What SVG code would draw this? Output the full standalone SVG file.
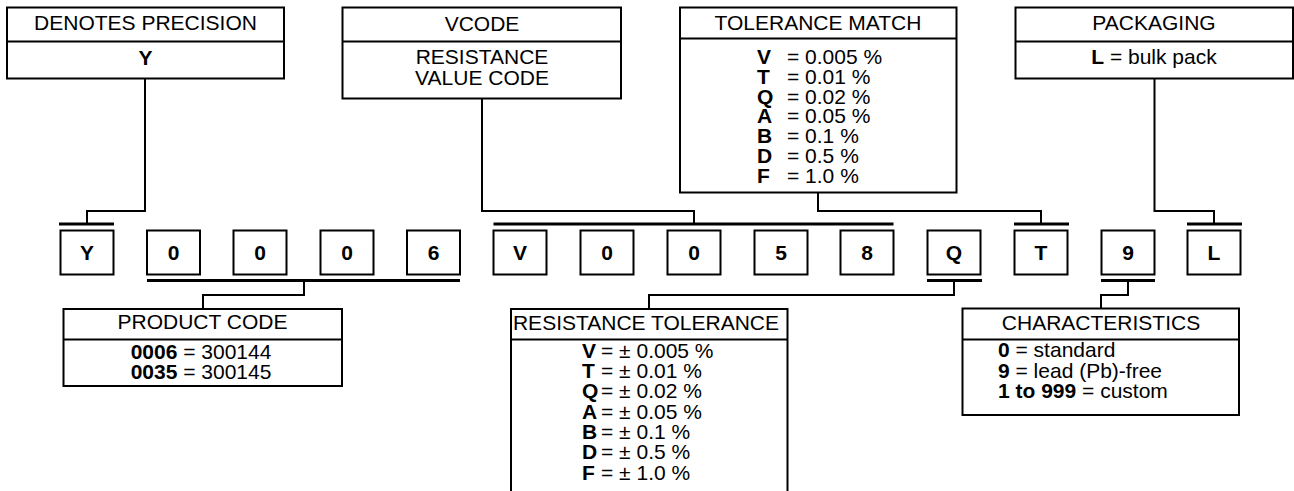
<svg xmlns="http://www.w3.org/2000/svg" width="1294" height="491" viewBox="0 0 1294 491">
<style>
.box{fill:#fff;stroke:#000;stroke-width:2}
.div{stroke:#000;stroke-width:2}
.t{font-family:"Liberation Sans",Arial,Helvetica,sans-serif;font-size:21px;fill:#000}
.c{text-anchor:middle}
.b{font-weight:bold}
.bar{stroke:#000;stroke-width:3;fill:none}
.ln{stroke:#000;stroke-width:2;fill:none}
</style>
<rect width="1294" height="491" fill="#fff"/>

<g id="denotes-precision">
<rect class="box" x="7" y="7.5" width="277" height="71"/>
<line class="div" x1="7" y1="41.5" x2="284" y2="41.5"/>
<text class="t c" x="145.5" y="30">DENOTES PRECISION</text>
<text class="t c b" x="145.5" y="65">Y</text>
</g>

<g id="vcode">
<rect class="box" x="342.5" y="7.5" width="278.5" height="91"/>
<line class="div" x1="342.5" y1="41.5" x2="621" y2="41.5"/>
<text class="t c" x="482" y="30.5">VCODE</text>
<text class="t c" x="482" y="64">RESISTANCE</text>
<text class="t c" x="482" y="85">VALUE CODE</text>
</g>

<g id="tolerance-match">
<rect class="box" x="680" y="7.5" width="276.5" height="185"/>
<line class="div" x1="680" y1="38.5" x2="956.5" y2="38.5"/>
<text class="t c" x="818" y="30">TOLERANCE MATCH</text>
<text class="t b" x="757" y="64">V</text><text class="t" x="787" y="64">= 0.005 %</text>
<text class="t b" x="757" y="83.8">T</text><text class="t" x="787" y="83.8">= 0.01 %</text>
<text class="t b" x="757" y="103.6">Q</text><text class="t" x="787" y="103.6">= 0.02 %</text>
<text class="t b" x="757" y="123.4">A</text><text class="t" x="787" y="123.4">= 0.05 %</text>
<text class="t b" x="757" y="143.2">B</text><text class="t" x="787" y="143.2">= 0.1 %</text>
<text class="t b" x="757" y="163">D</text><text class="t" x="787" y="163">= 0.5 %</text>
<text class="t b" x="757" y="182.8">F</text><text class="t" x="787" y="182.8">= 1.0 %</text>
</g>

<g id="packaging">
<rect class="box" x="1015.5" y="7.5" width="277.5" height="71"/>
<line class="div" x1="1015.5" y1="41.5" x2="1293" y2="41.5"/>
<text class="t c" x="1154" y="30">PACKAGING</text>
<text class="t c" x="1154" y="64"><tspan class="b">L</tspan> = bulk pack</text>
</g>

<g id="code-boxes">
<g id="code-Y"><rect class="box" x="60.5" y="230.5" width="53" height="44"/><text class="t c b" x="87" y="260">Y</text></g>
<g id="code-0a"><rect class="box" x="147" y="230.5" width="53" height="44"/><text class="t c b" x="173.5" y="260">0</text></g>
<g id="code-0b"><rect class="box" x="233.5" y="230.5" width="53" height="44"/><text class="t c b" x="260" y="260">0</text></g>
<g id="code-0c"><rect class="box" x="320.5" y="230.5" width="53" height="44"/><text class="t c b" x="347" y="260">0</text></g>
<g id="code-6"><rect class="box" x="407" y="230.5" width="53" height="44"/><text class="t c b" x="433.5" y="260">6</text></g>
<g id="code-V"><rect class="box" x="493.5" y="230.5" width="53" height="44"/><text class="t c b" x="520" y="260">V</text></g>
<g id="code-0d"><rect class="box" x="580.5" y="230.5" width="53" height="44"/><text class="t c b" x="607" y="260">0</text></g>
<g id="code-0e"><rect class="box" x="667.5" y="230.5" width="53" height="44"/><text class="t c b" x="694" y="260">0</text></g>
<g id="code-5"><rect class="box" x="754.5" y="230.5" width="53" height="44"/><text class="t c b" x="781" y="260">5</text></g>
<g id="code-8"><rect class="box" x="840.5" y="230.5" width="53" height="44"/><text class="t c b" x="867" y="260">8</text></g>
<g id="code-Q"><rect class="box" x="927.5" y="230.5" width="53" height="44"/><text class="t c b" x="954" y="260">Q</text></g>
<g id="code-T"><rect class="box" x="1014.5" y="230.5" width="53" height="44"/><text class="t c b" x="1041" y="260">T</text></g>
<g id="code-9"><rect class="box" x="1101.5" y="230.5" width="53" height="44"/><text class="t c b" x="1128" y="260">9</text></g>
<g id="code-L"><rect class="box" x="1187.5" y="230.5" width="53" height="44"/><text class="t c b" x="1214" y="260">L</text></g>
</g>

<g id="product-code">
<rect class="box" x="63.5" y="309" width="278.5" height="77"/>
<line class="div" x1="63.5" y1="339.5" x2="342" y2="339.5"/>
<text class="t c" x="202.5" y="329">PRODUCT CODE</text>
<text class="t c" x="201" y="358.5"><tspan class="b">0006</tspan> = 300144</text>
<text class="t c" x="201" y="378.5"><tspan class="b">0035</tspan> = 300145</text>
</g>

<g id="resistance-tolerance">
<path class="ln" d="M511,492 V309 H787.5 V492" fill="#fff"/>
<line class="div" x1="511" y1="339.5" x2="787.5" y2="339.5"/>
<text class="t c" x="646" y="329.5">RESISTANCE TOLERANCE</text>
<text class="t b" x="582" y="357.7">V</text><text class="t" x="601" y="357.7">= ± 0.005 %</text>
<text class="t b" x="582" y="378">T</text><text class="t" x="601" y="378">= ± 0.01 %</text>
<text class="t b" x="582" y="398.3">Q</text><text class="t" x="601" y="398.3">= ± 0.02 %</text>
<text class="t b" x="582" y="418.6">A</text><text class="t" x="601" y="418.6">= ± 0.05 %</text>
<text class="t b" x="582" y="438.9">B</text><text class="t" x="601" y="438.9">= ± 0.1 %</text>
<text class="t b" x="582" y="459.2">D</text><text class="t" x="601" y="459.2">= ± 0.5 %</text>
<text class="t b" x="582" y="479.5">F</text><text class="t" x="601" y="479.5">= ± 1.0 %</text>
</g>

<g id="characteristics">
<rect class="box" x="962.5" y="308.5" width="276.5" height="106.5"/>
<line class="div" x1="962.5" y1="339.5" x2="1239" y2="339.5"/>
<text class="t c" x="1101" y="330">CHARACTERISTICS</text>
<text class="t" x="998" y="357"><tspan class="b">0</tspan> = standard</text>
<text class="t" x="998" y="377.5"><tspan class="b">9</tspan> = lead (Pb)-free</text>
<text class="t" x="998" y="398"><tspan class="b">1 to 999</tspan> = custom</text>
</g>

<g id="connectors">
<line class="bar" x1="59" y1="224" x2="114" y2="224"/>
<line class="bar" x1="147" y1="280.5" x2="460" y2="280.5"/>
<line class="bar" x1="493.5" y1="224" x2="893.5" y2="224"/>
<line class="bar" x1="1014" y1="224" x2="1069" y2="224"/>
<line class="bar" x1="1187" y1="224" x2="1242" y2="224"/>
<line class="bar" x1="927" y1="280.5" x2="982" y2="280.5"/>
<line class="bar" x1="1101" y1="280.5" x2="1155" y2="280.5"/>
<path class="ln" d="M145,79 V211 H87 V224"/>
<path class="ln" d="M482,99 V211 H694 V224"/>
<path class="ln" d="M818,193 V211 H1041 V224"/>
<path class="ln" d="M1154.5,79 V211 H1214 V224"/>
<path class="ln" d="M304,281 V295 H203 V309"/>
<path class="ln" d="M954,281 V295 H649 V309"/>
<path class="ln" d="M1128,281 V295 H1101 V309"/>
</g>
</svg>
